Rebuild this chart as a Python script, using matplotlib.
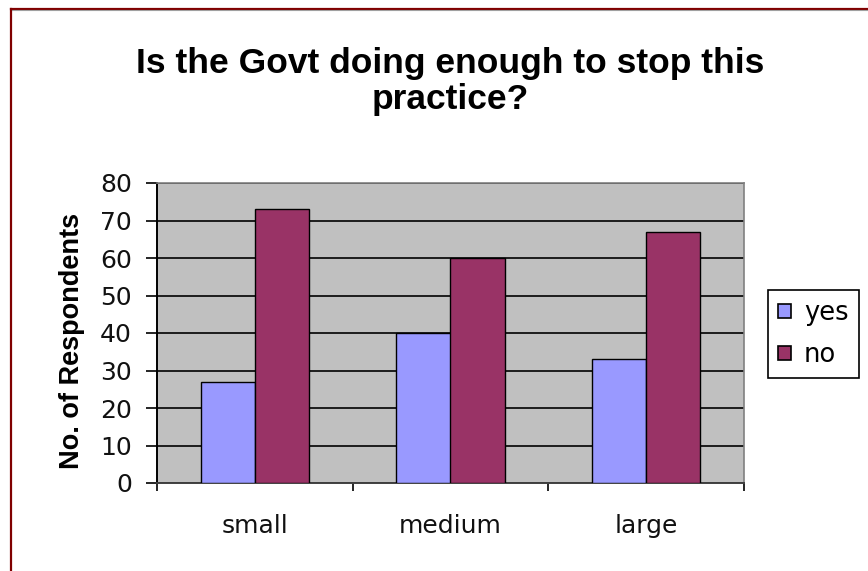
import numpy as np
import matplotlib as mpl
mpl.use("Agg")
from matplotlib import pyplot as plt
from matplotlib.lines import Line2D
from matplotlib.patches import Patch

categories = ["small", "medium", "large"]
yes_values = [27, 40, 33]
no_values = [73, 60, 67]
series_names = ["yes", "no"]

W, H = 868, 571
fig = plt.figure(figsize=(W / 100, H / 100), dpi=100)
fig.patch.set_facecolor("white")

# plot area in pixel terms, turned into figure fractions
left, right, top, bottom = 157, 744, 183, 483
ax = fig.add_axes([left / W, 1 - bottom / H, (right - left) / W, (bottom - top) / H])
ax.set_facecolor("#C0C0C0")

x = np.arange(len(categories))
bw = 0.276
ax.bar(x - bw / 2, yes_values, bw, color="#9999FF", edgecolor="black", linewidth=1.0, zorder=3)
ax.bar(x + bw / 2, no_values, bw, color="#993366", edgecolor="black", linewidth=1.0, zorder=3)

ax.set_xlim(-0.5, len(categories) - 0.5)
ax.set_ylim(0, 80)
ax.set_yticks(np.arange(0, 81, 10))
ax.yaxis.grid(True, color="black", linewidth=1.2, zorder=1)
ax.set_axisbelow(True)

ax.set_xticks(x)
ax.set_xticklabels(categories, fontsize=18, family="DejaVu Sans", color="#111111")
ax.tick_params(axis="x", which="major", length=0, pad=22)
ax.set_xticks(np.arange(-0.5, len(categories), 1), minor=True)
ax.tick_params(axis="x", which="minor", length=6, width=1.2, color="black")
ax.tick_params(axis="y", length=8, width=1.2, color="black", pad=10,
               labelsize=18, labelcolor="#111111")

for side in ["top", "right"]:
    ax.spines[side].set_color("#808080")
    ax.spines[side].set_linewidth(1.2)
ax.spines["left"].set_color("black")
ax.spines["left"].set_linewidth(1.4)
ax.spines["bottom"].set_color("#404040")
ax.spines["bottom"].set_linewidth(1.4)

fig.text(72 / W, 1 - 341 / H, "No. of Respondents", rotation=90, ha="center", va="center",
         fontsize=19.5, fontweight="bold", family="Liberation Sans")

fig.text(450 / W, 1 - 47 / H, "Is the Govt doing enough to stop this\npractice?",
         ha="center", va="top", fontsize=25.5, fontweight="bold", family="Liberation Sans",
         linespacing=1.12)

handles = [Patch(facecolor="#9999FF", edgecolor="black", linewidth=1.2),
           Patch(facecolor="#993366", edgecolor="black", linewidth=1.2)]
leg = fig.legend(handles, series_names, loc="upper left",
                 bbox_to_anchor=(768 / W, 1 - 290 / H), borderaxespad=0,
                 fancybox=False, framealpha=1, edgecolor="black",
                 prop={"family": "DejaVu Sans", "size": 18.5},
                 handlelength=0.5, handleheight=0.5, handletextpad=0.5,
                 labelspacing=0.62, borderpad=0.4)
leg.get_frame().set_linewidth(1.2)

# dark red frame on the top and left edges
fig.add_artist(Line2D([11 / W, 1], [1 - 8.5 / H, 1 - 8.5 / H], color="#800000", linewidth=1.6,
                      transform=fig.transFigure))
fig.add_artist(Line2D([11 / W, 1], [1 - 10 / H, 1 - 10 / H], color="#A0A0A0", linewidth=0.8,
                      transform=fig.transFigure))
fig.add_artist(Line2D([11 / W, 11 / W], [0, 1 - 8.5 / H], color="#800000", linewidth=1.6,
                      transform=fig.transFigure))

fig.savefig("out.png", dpi=100)
